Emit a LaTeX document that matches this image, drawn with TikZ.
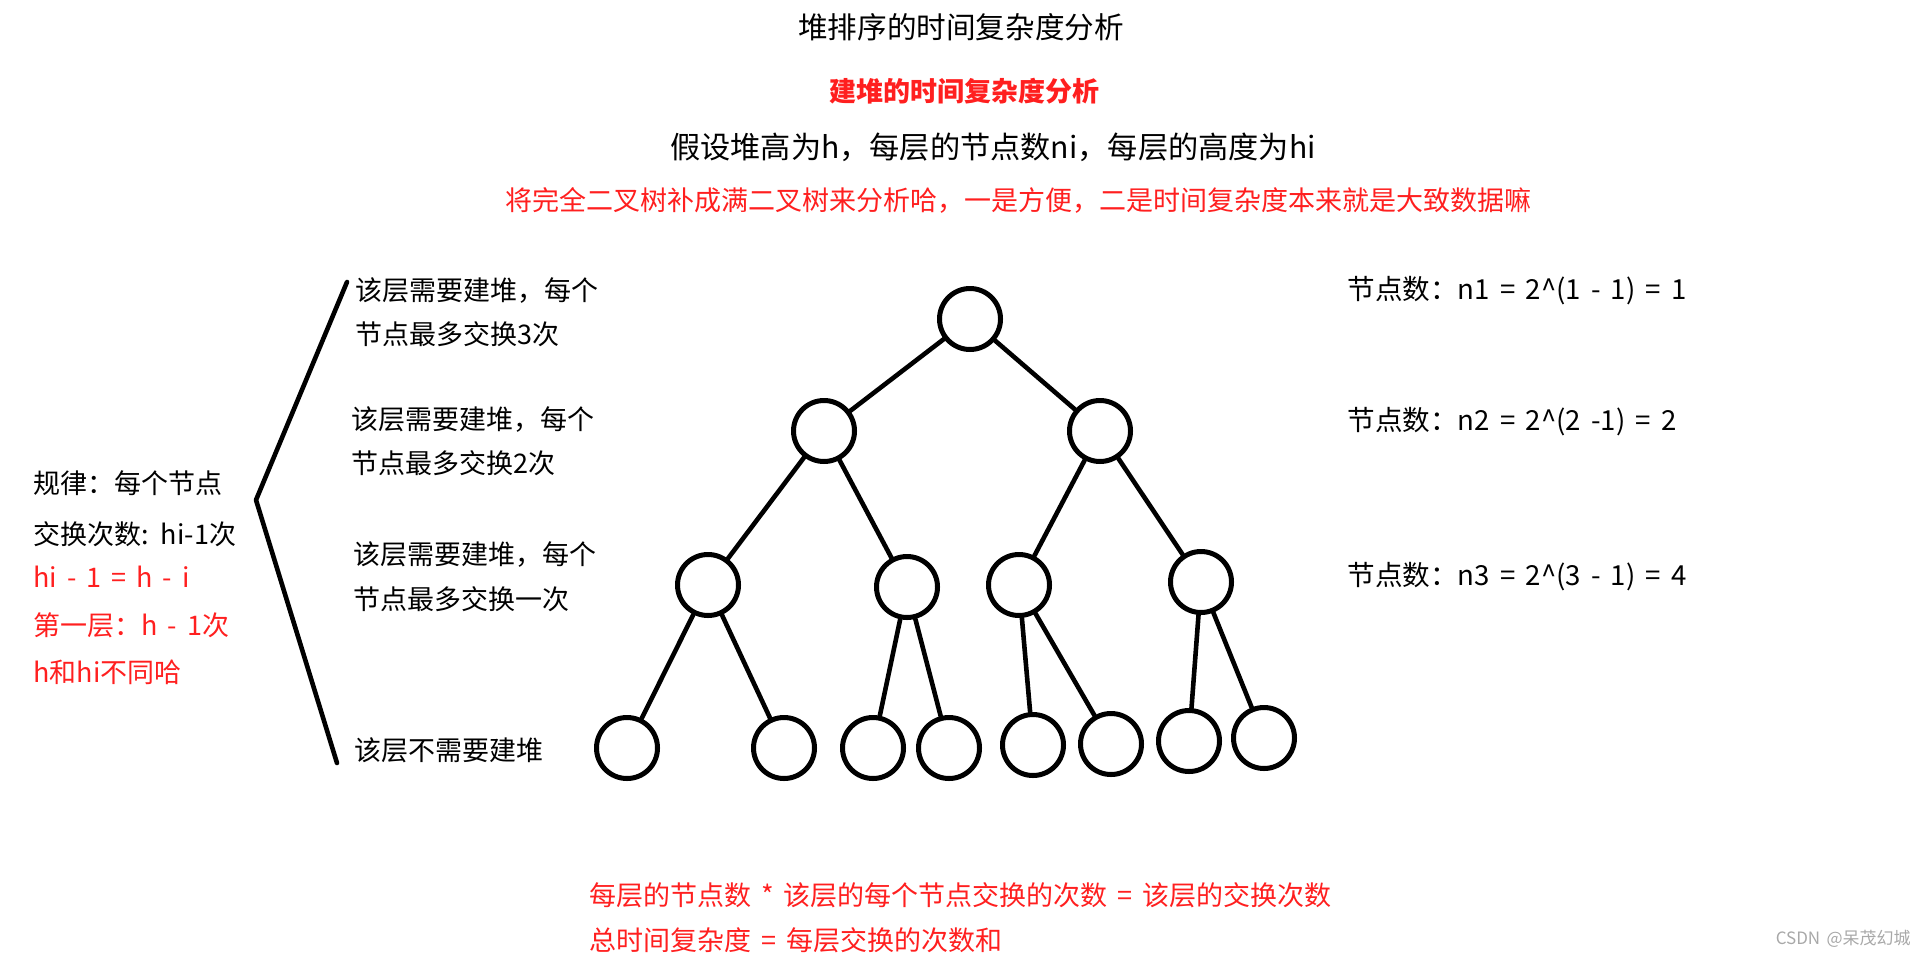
\documentclass[tikz,border=0pt]{standalone}
\usepackage{fontspec}
\setmainfont{Noto Sans CJK SC}[WordSpace=1.65]
\usetikzlibrary{positioning}
\definecolor{note}{HTML}{FF1F1F}
\definecolor{mark}{HTML}{A8A8A8}

\tikzset{
  treenode/.style={draw, circle, line width=2.5pt, minimum size=30.5pt, inner sep=0pt},
  link/.style={line width=2.3pt},
  hint/.style={anchor=west, inner sep=0pt, font=\fontsize{13.5pt}{16pt}\selectfont},
  note/.style={hint, text=note},
}

\begin{document}
\begin{tikzpicture}[x=0.5pt, y=-0.5pt, line cap=round, line join=round]
  \useasboundingbox (0,0) rectangle (1920,958);

  % heading lines
  \node[font=\fontsize{14.8pt}{17pt}\selectfont] (title) at (961,27) {堆排序的时间复杂度分析};
  \node[text=note, font=\fontsize{13.5pt}{16pt}\selectfont\bfseries] (sub) at (964,91) {建堆的时间复杂度分析};
  \node[font=\fontsize{15.1pt}{18pt}\selectfont] (given) at (993,147) {假设堆高为h，每层的节点数ni，每层的高度为hi};
  \node[text=note, font=\fontsize{13.5pt}{16pt}\selectfont] (why) at (1018,200) {将完全二叉树补成满二叉树来分析哈，一是方便，二是时间复杂度本来就是大致数据嘛};

  % the full binary tree
  \node[treenode] (n1) at (970,319) {};
  \node[treenode] (n21) at (824,431) {};
  \node[treenode] (n22) at (1100,431) {};
  \node[treenode] (n31) at (708,585) {};
  \node[treenode] (n32) at (907,587) {};
  \node[treenode] (n33) at (1019,585) {};
  \node[treenode] (n34) at (1201,582) {};
  \node[treenode] (n41) at (627,748) {};
  \node[treenode] (n42) at (784,748) {};
  \node[treenode] (n43) at (873,748) {};
  \node[treenode] (n44) at (949,748) {};
  \node[treenode] (n45) at (1033,745) {};
  \node[treenode] (n46) at (1111,744) {};
  \node[treenode] (n47) at (1189,741) {};
  \node[treenode] (n48) at (1264,738) {};

  \draw[link] (n1) -- (n21);
  \draw[link] (n1) -- (n22);
  \draw[link] (n21) -- (n31);
  \draw[link] (n21) -- (n32);
  \draw[link] (n22) -- (n33);
  \draw[link] (n22) -- (n34);
  \draw[link] (n31) -- (n41);
  \draw[link] (n31) -- (n42);
  \draw[link] (n32) -- (n43);
  \draw[link] (n32) -- (n44);
  \draw[link] (n33) -- (n45);
  \draw[link] (n33) -- (n46);
  \draw[link] (n34) -- (n47);
  \draw[link] (n34) -- (n48);

  % per level notes
  \node[hint] (lv1a) at (355,291) {该层需要建堆，每个};
  \node[hint] (lv1b) at (355,334) {节点最多交换3次};
  \node[hint] (lv2a) at (351,420) {该层需要建堆，每个};
  \node[hint] (lv2b) at (351,463) {节点最多交换2次};
  \node[hint] (lv3a) at (353,555) {该层需要建堆，每个};
  \node[hint] (lv3b) at (353,599) {节点最多交换一次};
  \node[hint] (lv4) at (354,750) {该层不需要建堆};

  % bracket
  \coordinate (bt) at (347,282);
  \coordinate (bm) at (256,500);
  \coordinate (bb) at (337,763);
  \draw[line width=2.3pt] (bt) -- (bm) -- (bb);

  \node[hint] (rule1) at (33,483) {规律：每个节点};
  \node[hint] (rule2) at (33,534) {交换次数: hi-1次};
  \node[note] (rule3) at (33,577) {hi - 1 = h - i};
  \node[note] (rule4) at (33,625) {第一层：h - 1次};
  \node[note] (rule5) at (33,672) {h和hi不同哈};

  % node counts
  \node[hint, font=\fontsize{13.8pt}{16pt}\selectfont] (cnt1) at (1347,291) {节点数：n1 = 2\textasciicircum(1 - 1) = 1};
  \node[hint, font=\fontsize{13.8pt}{16pt}\selectfont] (cnt2) at (1347,422) {节点数：n2 = 2\textasciicircum(2 -1) = 2};
  \node[hint, font=\fontsize{13.8pt}{16pt}\selectfont] (cnt3) at (1347,577) {节点数：n3 = 2\textasciicircum(3 - 1) = 4};

  % sums
  \node[note] (sum1) at (589,895) {每层的节点数 * 该层的每个节点交换的次数 = 该层的交换次数};
  \node[note] (sum2) at (589,940) {总时间复杂度 = 每层交换的次数和};

  \node[anchor=east, inner sep=0pt, text=mark, font=\fontsize{8.5pt}{10pt}\selectfont] (wm) at (1911,939) {CSDN @呆茂幻城};
\end{tikzpicture}
\end{document}
